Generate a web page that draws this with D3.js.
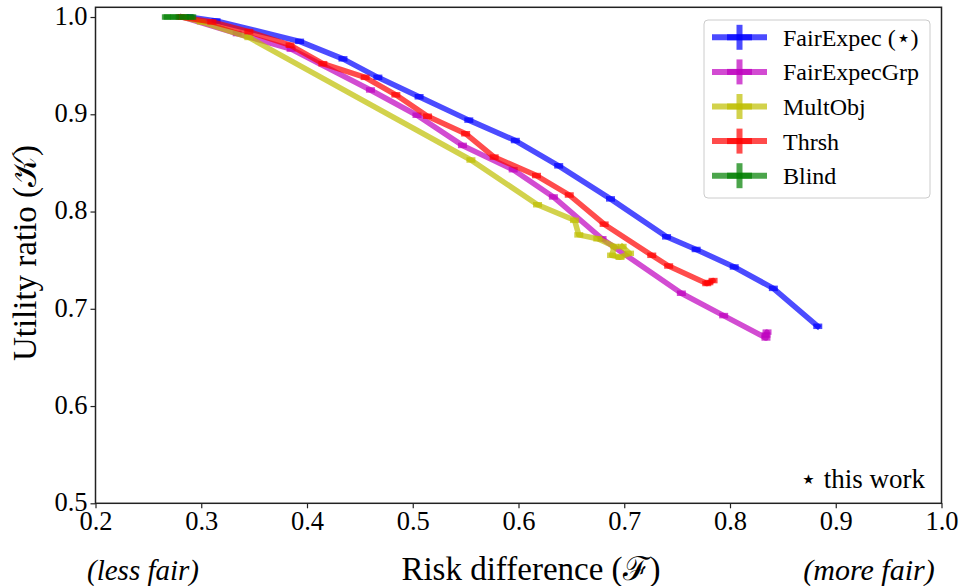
<!DOCTYPE html>
<html><head><meta charset="utf-8">
<script src="https://cdn.jsdelivr.net/npm/d3@7"></script>
<style>
body{margin:0;background:#fff;}
svg{display:block;}
</style>
</head><body>
<svg id="c" width="961" height="586"></svg>
<script>
const seriesNames = ["FairExpec (\u22C6)", "FairExpecGrp", "MultObj", "Thrsh", "Blind"];
const seriesColors = ["#0000ff", "#bf00bf", "#bfbf00", "#ff0000", "#008000"];

const fairExpecX = [0.288, 0.314, 0.393, 0.434, 0.467, 0.506, 0.553, 0.597, 0.638, 0.687, 0.740, 0.768, 0.804, 0.841, 0.883];
const fairExpecY = [1.000, 0.996, 0.975, 0.957, 0.938, 0.918, 0.894, 0.873, 0.847, 0.813, 0.774, 0.761, 0.743, 0.721, 0.682];

const fairExpecGrpX = [0.282, 0.334, 0.385, 0.460, 0.504, 0.547, 0.595, 0.633, 0.679, 0.754, 0.794, 0.834, 0.835, 0.834];
const fairExpecGrpY = [1.000, 0.983, 0.967, 0.925, 0.899, 0.868, 0.843, 0.815, 0.772, 0.716, 0.693, 0.670, 0.676, 0.673];

const multObjX = [0.282, 0.300, 0.345, 0.555, 0.618, 0.653, 0.657, 0.675, 0.691, 0.688, 0.696, 0.705, 0.698];
const multObjY = [1.000, 0.995, 0.979, 0.853, 0.807, 0.791, 0.776, 0.772, 0.764, 0.755, 0.753, 0.757, 0.764];

const thrshX = [0.280, 0.310, 0.345, 0.384, 0.415, 0.455, 0.484, 0.514, 0.550, 0.577, 0.617, 0.648, 0.681, 0.726, 0.742, 0.778, 0.784, 0.780];
const thrshY = [1.000, 0.995, 0.985, 0.971, 0.952, 0.938, 0.920, 0.898, 0.880, 0.856, 0.837, 0.817, 0.787, 0.755, 0.744, 0.726, 0.729, 0.727];

const blindX = [0.267, 0.275, 0.284, 0.291];
const blindY = [1.000, 1.000, 1.000, 1.000];

const xTicks = [0.2, 0.3, 0.4, 0.5, 0.6, 0.7, 0.8, 0.9, 1.0];
const yTicks = [0.5, 0.6, 0.7, 0.8, 0.9, 1.0];

const seriesX = [fairExpecX, fairExpecGrpX, multObjX, thrshX, blindX];
const seriesY = [fairExpecY, fairExpecGrpY, multObjY, thrshY, blindY];

const FONT = "Liberation Serif, Times New Roman, serif";
const svg = d3.select("#c");
const L = 95.5, R = 941.5, T = 7.3, B = 503.3;
const x = d3.scaleLinear().domain([0.2, 1.0]).range([L, R]);
const y = d3.scaleLinear().domain([0.5, 1.01]).range([B, T]);

svg.append("defs").append("clipPath").attr("id", "clip")
  .append("rect").attr("x", L).attr("y", T).attr("width", R - L).attr("height", B - T);

const plot = svg.append("g").attr("clip-path", "url(#clip)");
const line = d3.line().x(d => x(d[0])).y(d => y(d[1]));

seriesX.forEach((xs, i) => {
  const pts = xs.map((v, j) => [v, seriesY[i][j]]);
  const g = plot.append("g");
  g.append("path").datum(pts).attr("d", line)
    .attr("fill", "none").attr("stroke", seriesColors[i]).attr("stroke-width", 5.5)
    .attr("stroke-linejoin", "round").attr("stroke-linecap", "square").attr("opacity", 0.7);
  g.selectAll("line.eb").data(pts).enter().append("line").attr("class", "eb")
    .attr("x1", d => x(d[0]) - 4.5).attr("x2", d => x(d[0]) + 4.5)
    .attr("y1", d => y(d[1])).attr("y2", d => y(d[1]))
    .attr("stroke", seriesColors[i]).attr("stroke-width", 5.5).attr("opacity", 0.7);
});

// axes
const xAxis = svg.append("g").attr("transform", `translate(0,${B})`)
  .call(d3.axisBottom(x).tickValues(xTicks).tickFormat(d3.format(".1f")).tickSize(5).tickPadding(3).tickSizeOuter(0));
const yAxis = svg.append("g").attr("transform", `translate(${L},0)`)
  .call(d3.axisLeft(y).tickValues(yTicks).tickFormat(d3.format(".1f")).tickSize(5).tickPadding(3).tickSizeOuter(0));
[xAxis, yAxis].forEach(a => {
  a.attr("font-family", FONT);
  a.select(".domain").remove();
  a.selectAll(".tick line").attr("stroke", "#222").attr("stroke-width", 1.2);
  a.selectAll(".tick text").attr("font-family", FONT).attr("font-size", 26.5).attr("fill", "#000");
});
yAxis.selectAll(".tick text").attr("dy", "0.28em");

svg.append("rect").attr("x", L).attr("y", T).attr("width", R - L).attr("height", B - T)
  .attr("fill", "none").attr("stroke", "#222").attr("stroke-width", 1.5);

// legend
const lg = svg.append("g");
lg.append("rect").attr("x", 704).attr("y", 20).attr("width", 226).attr("height", 178).attr("rx", 4)
  .attr("fill", "#fff").attr("fill-opacity", 0.8).attr("stroke", "#ccc").attr("stroke-width", 1);
seriesNames.forEach((n, i) => {
  const cy = 37.3 + i * 34.6;
  const c = seriesColors[i];
  lg.append("line").attr("x1", 712).attr("x2", 767).attr("y1", cy).attr("y2", cy)
    .attr("stroke", c).attr("stroke-width", 6).attr("opacity", 0.7);
  lg.append("line").attr("x1", 727).attr("x2", 752).attr("y1", cy).attr("y2", cy)
    .attr("stroke", c).attr("stroke-width", 6).attr("opacity", 0.7);
  lg.append("line").attr("x1", 739.5).attr("x2", 739.5).attr("y1", cy - 12.5).attr("y2", cy + 12.5)
    .attr("stroke", c).attr("stroke-width", 6).attr("opacity", 0.7);
  lg.append("text").attr("x", 783).attr("y", cy + 8.5).attr("font-family", FONT)
    .attr("font-size", 24).attr("fill", "#000").text(n);
});

// annotations
const txt = (xx, yy, s, size, anchor, italic) => svg.append("text")
  .attr("x", xx).attr("y", yy).attr("text-anchor", anchor).attr("font-size", size)
  .attr("font-family", FONT).attr("font-style", italic ? "italic" : "normal").attr("fill", "#000").text(s);
txt(925, 488, "\u22C6 this work", 27, "end", false);
txt(531, 580, "Risk difference (\u2131)", 33, "middle", false);
txt(143, 580, "(less fair)", 29, "middle", true);
txt(869, 580, "(more fair)", 30, "middle", true);
svg.append("text").attr("transform", "translate(36,253) rotate(-90)").attr("text-anchor", "middle")
  .attr("font-family", FONT).attr("font-size", 33).attr("fill", "#000").text("Utility ratio (\uD835\uDCA6)");
</script>
</body></html>
